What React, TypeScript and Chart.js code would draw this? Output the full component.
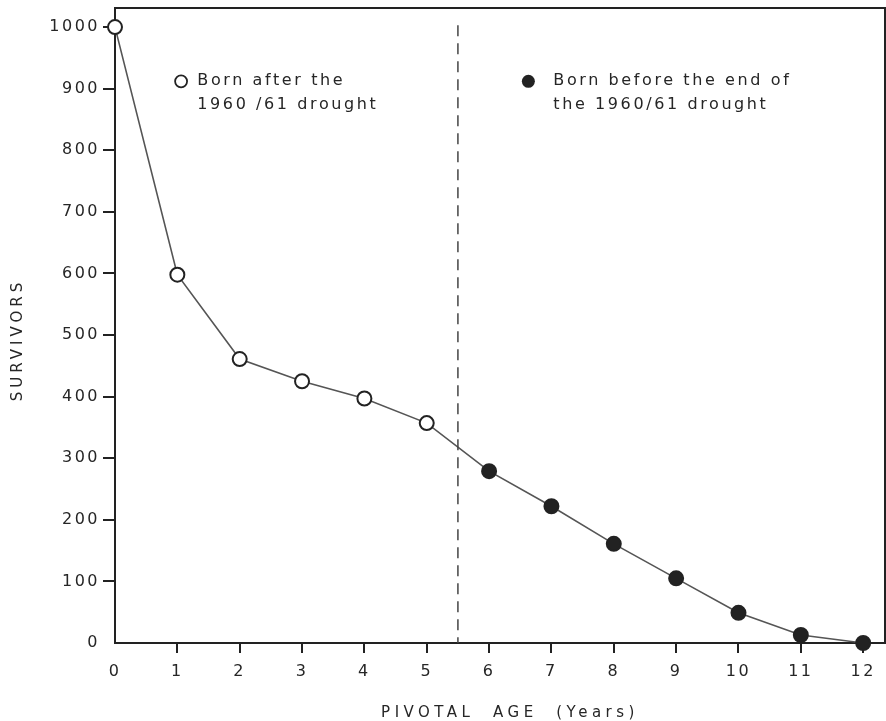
import { useEffect, useRef } from "react";
import { Chart, registerables } from "chart.js";
Chart.register(...registerables);

const ages = [0, 1, 2, 3, 4, 5, 6, 7, 8, 9, 10, 11, 12];
const survivors = [1000, 598, 461, 425, 397, 357, 279, 222, 161, 105, 49, 13, 0];
const lastAgeBornAfter = 5;
const droughtEndAge = 5.5;
const xTicks = [0, 1, 2, 3, 4, 5, 6, 7, 8, 9, 10, 11, 12];
const yTicks = [0, 100, 200, 300, 400, 500, 600, 700, 800, 900, 1000];
const legendAfter = ["Born after the", "1960 /61 drought"];
const legendBefore = ["Born before the end of", "the 1960/61 drought"];
const xTitle = "PIVOTAL  AGE  (Years)";
const yTitle = "SURVIVORS";

const INK = "#222222";
const TEXT = "#262626";
const LINE = "#555555";
const FONT = "DejaVu Sans";

export default function App() {
  const ref = useRef<HTMLCanvasElement | null>(null);

  useEffect(() => {
    document.body.style.margin = "0";
    document.body.style.overflow = "hidden";
    const canvas = ref.current!;
    const decor = {
      id: "decor",
      beforeDraw(chart: any) {
        (chart.ctx as any).letterSpacing = "2.5px";
      },
      afterDraw(chart: any) {
        const ctx = chart.ctx as CanvasRenderingContext2D;
        const { chartArea: a, scales } = chart;
        const xs = scales.x;
        const ys = scales.y;
        ctx.save();
        // top and right frame
        ctx.strokeStyle = INK;
        ctx.lineWidth = 2;
        ctx.beginPath();
        ctx.moveTo(a.left, a.top);
        ctx.lineTo(a.right, a.top);
        ctx.lineTo(a.right, a.bottom);
        ctx.stroke();
        // dashed drought line
        const dx = xs.getPixelForValue(droughtEndAge);
        ctx.setLineDash([11, 7]);
        ctx.lineWidth = 1.5;
        ctx.strokeStyle = "#444";
        ctx.beginPath();
        ctx.moveTo(dx, ys.getPixelForValue(1003));
        ctx.lineTo(dx, a.bottom);
        ctx.stroke();
        ctx.setLineDash([]);
        // legend annotations
        (ctx as any).letterSpacing = "2.6px";
        ctx.font = `16px "${FONT}"`;
        ctx.fillStyle = TEXT;
        ctx.textBaseline = "middle";
        ctx.textAlign = "left";
        const y1 = ys.getPixelForValue(912);
        const y2 = ys.getPixelForValue(873);
        const lx1 = xs.getPixelForValue(1.32);
        const cx1 = xs.getPixelForValue(1.06);
        ctx.fillText(legendAfter[0], lx1, y1);
        ctx.fillText(legendAfter[1], lx1, y2);
        ctx.beginPath();
        ctx.arc(cx1, y1, 6, 0, Math.PI * 2);
        ctx.fillStyle = "#fff";
        ctx.fill();
        ctx.strokeStyle = INK;
        ctx.lineWidth = 1.8;
        ctx.stroke();
        const lx2 = xs.getPixelForValue(7.03);
        const cx2 = xs.getPixelForValue(6.63);
        ctx.fillStyle = TEXT;
        ctx.fillText(legendBefore[0], lx2, y1);
        ctx.fillText(legendBefore[1], lx2, y2);
        ctx.beginPath();
        ctx.arc(cx2, y1, 6.5, 0, Math.PI * 2);
        ctx.fillStyle = INK;
        ctx.fill();
        // axis titles
        (ctx as any).letterSpacing = "4.5px";
        ctx.font = `15px "${FONT}"`;
        ctx.fillStyle = TEXT;
        ctx.textAlign = "center";
        ctx.fillText(xTitle, 510, 713);
        (ctx as any).letterSpacing = "4px";
        ctx.translate(18, 340);
        ctx.rotate(-Math.PI / 2);
        ctx.fillText(yTitle, 0, 0);
        ctx.restore();
      },
    };

    const tickFont = { family: FONT, size: 16 };
    const chart = new Chart(canvas, {
      type: "line",
      data: {
        datasets: [
          {
            data: ages.map((a, i) => ({ x: a, y: survivors[i] })),
            borderColor: LINE,
            borderWidth: 1.6,
            pointRadius: 7,
            pointBorderWidth: 2,
            pointBorderColor: INK,
            pointBackgroundColor: ages.map((a) => (a <= lastAgeBornAfter ? "#ffffff" : INK)),
            tension: 0,
            clip: false as any,
          },
        ],
      },
      options: {
        animation: false,
        responsive: false,
        maintainAspectRatio: false,
        layout: { autoPadding: false, padding: { top: 8, right: 1, left: 0, bottom: 0 } },
        plugins: { legend: { display: false }, tooltip: { enabled: false } },
        scales: {
          x: {
            type: "linear",
            min: 0,
            max: 12.35,
            afterBuildTicks: (s: any) => {
              s.ticks = xTicks.map((v) => ({ value: v }));
            },
            afterFit: (s: any) => {
              s.height = 78;
              s.paddingLeft = 0;
              s.paddingRight = 0;
            },
            grid: {
              drawOnChartArea: false,
              drawTicks: true,
              tickLength: 10,
              lineWidth: 2,
              color: (c: any) => (c.tick && c.tick.value === 0 ? "rgba(0,0,0,0)" : INK),
            },
            border: { display: true, color: INK, width: 2 },
            ticks: {
              padding: 9,
              font: tickFont,
              color: TEXT,
              maxRotation: 0,
              autoSkip: false,
              callback: (v: any) => String(v),
            },
          },
          y: {
            type: "linear",
            min: 0,
            max: 1031,
            afterBuildTicks: (s: any) => {
              s.ticks = yTicks.map((v) => ({ value: v }));
            },
            afterFit: (s: any) => {
              s.width = 115;
              s.paddingTop = 0;
              s.paddingBottom = 0;
            },
            grid: {
              drawOnChartArea: false,
              drawTicks: true,
              tickLength: 12,
              lineWidth: 2,
              color: (c: any) => (c.tick && c.tick.value === 0 ? "rgba(0,0,0,0)" : INK),
            },
            border: { display: true, color: INK, width: 2 },
            ticks: {
              padding: 3,
              font: tickFont,
              color: TEXT,
              autoSkip: false,
              callback: (v: any) => String(v),
            },
          },
        },
      },
      plugins: [decor],
    });
    return () => chart.destroy();
  }, []);

  return (
    <div style={{ width: 886, height: 721, background: "#fff" }}>
      <canvas ref={ref} width={886} height={721} style={{ display: "block", width: 886, height: 721 }} />
    </div>
  );
}
